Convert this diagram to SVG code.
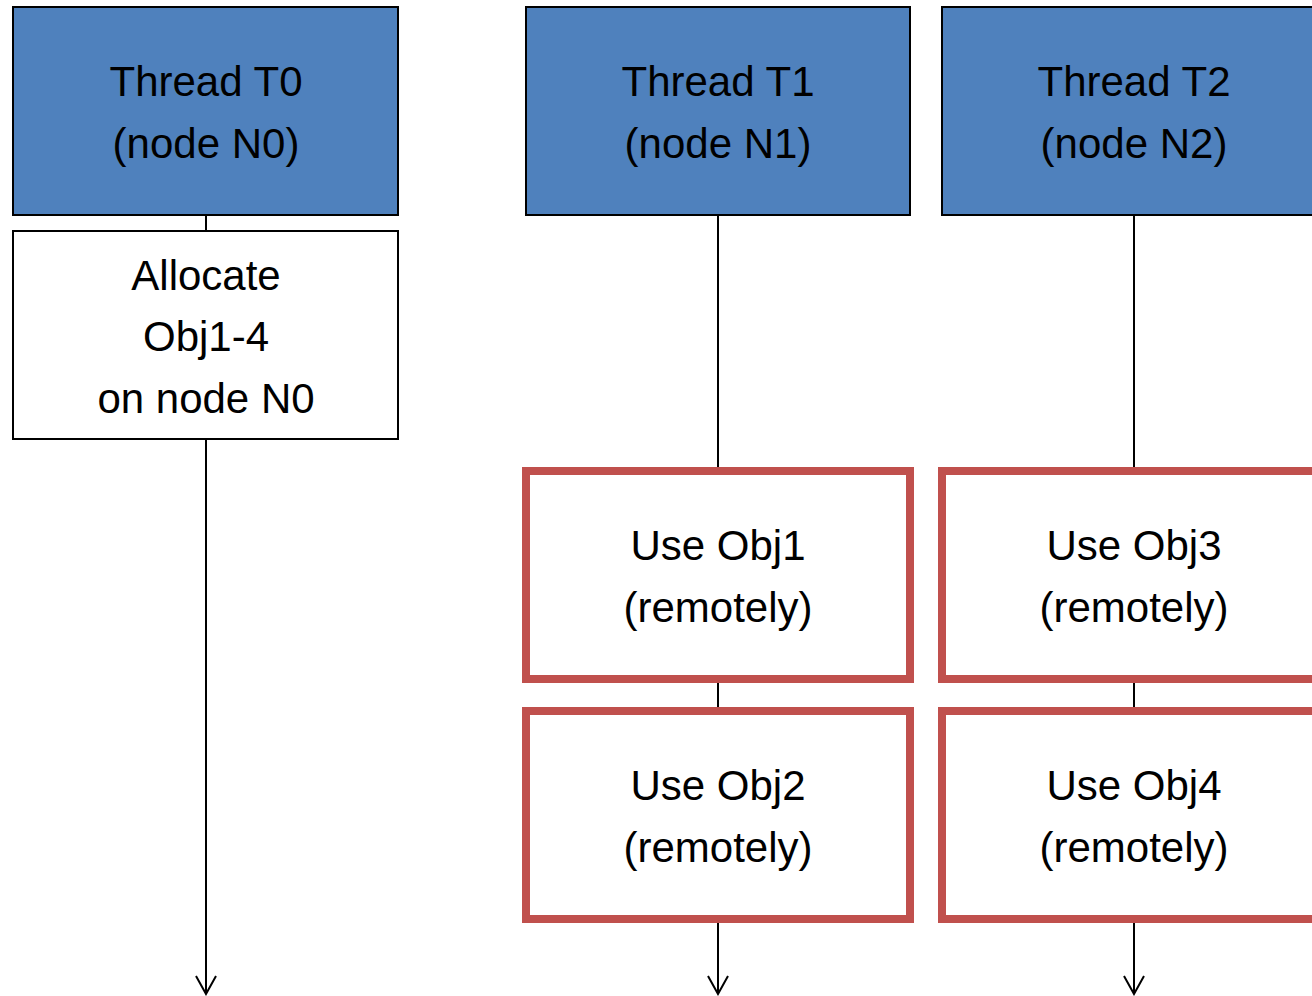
<svg xmlns="http://www.w3.org/2000/svg" width="1312" height="996" viewBox="0 0 1312 996">
  <style>
    .thread { fill: #4F81BD; stroke: #000; stroke-width: 2; }
    .alloc { fill: #fff; stroke: #000; stroke-width: 2; }
    .use { fill: #fff; stroke: #C0504D; stroke-width: 8; }
    .label { font-family: "Liberation Sans", Arial, sans-serif; font-size: 42px; fill: #000; text-anchor: middle; }
    .conn { stroke: #000; stroke-width: 2; fill: none; }
  </style>
  <defs>
    <!-- open V arrowhead, drawn along +x so orient="auto" points it down the line -->
    <marker id="open-arrow" markerWidth="22" markerHeight="24" refX="20" refY="12" orient="auto" markerUnits="userSpaceOnUse" viewBox="0 0 22 24">
      <path d="M2,2 L20,12 L2,22" fill="none" stroke="#000" stroke-width="2"/>
    </marker>
  </defs>

  <rect width="1312" height="996" fill="#fff"/>

  <g id="connectors">
    <line class="conn" x1="206" y1="215" x2="206" y2="231"/>
    <line class="conn" x1="206" y1="439" x2="206" y2="994" marker-end="url(#open-arrow)"/>
    <line class="conn" x1="718" y1="215" x2="718" y2="467"/>
    <line class="conn" x1="718" y1="683" x2="718" y2="707"/>
    <line class="conn" x1="718" y1="923" x2="718" y2="994" marker-end="url(#open-arrow)"/>
    <line class="conn" x1="1134" y1="215" x2="1134" y2="467"/>
    <line class="conn" x1="1134" y1="683" x2="1134" y2="707"/>
    <line class="conn" x1="1134" y1="923" x2="1134" y2="994" marker-end="url(#open-arrow)"/>
  </g>

  <g id="thread-t0">
    <rect class="thread" x="13" y="7" width="385" height="208"/>
    <text class="label" x="206" y="96">Thread T0</text>
    <text class="label" x="206" y="158">(node N0)</text>
  </g>

  <g id="allocate">
    <rect class="alloc" x="13" y="231" width="385" height="208"/>
    <text class="label" x="206" y="290">Allocate</text>
    <text class="label" x="206" y="351">Obj1-4</text>
    <text class="label" x="206" y="413">on node N0</text>
  </g>

  <g id="thread-t1">
    <rect class="thread" x="526" y="7" width="384" height="208"/>
    <text class="label" x="718" y="96">Thread T1</text>
    <text class="label" x="718" y="158">(node N1)</text>
  </g>

  <g id="thread-t2">
    <rect class="thread" x="942" y="7" width="384" height="208"/>
    <text class="label" x="1134" y="96">Thread T2</text>
    <text class="label" x="1134" y="158">(node N2)</text>
  </g>

  <g id="use-obj1">
    <rect class="use" x="526" y="471" width="384" height="208"/>
    <text class="label" x="718" y="560">Use Obj1</text>
    <text class="label" x="718" y="622">(remotely)</text>
  </g>

  <g id="use-obj2">
    <rect class="use" x="526" y="711" width="384" height="208"/>
    <text class="label" x="718" y="800">Use Obj2</text>
    <text class="label" x="718" y="862">(remotely)</text>
  </g>

  <g id="use-obj3">
    <rect class="use" x="942" y="471" width="384" height="208"/>
    <text class="label" x="1134" y="560">Use Obj3</text>
    <text class="label" x="1134" y="622">(remotely)</text>
  </g>

  <g id="use-obj4">
    <rect class="use" x="942" y="711" width="384" height="208"/>
    <text class="label" x="1134" y="800">Use Obj4</text>
    <text class="label" x="1134" y="862">(remotely)</text>
  </g>
</svg>
